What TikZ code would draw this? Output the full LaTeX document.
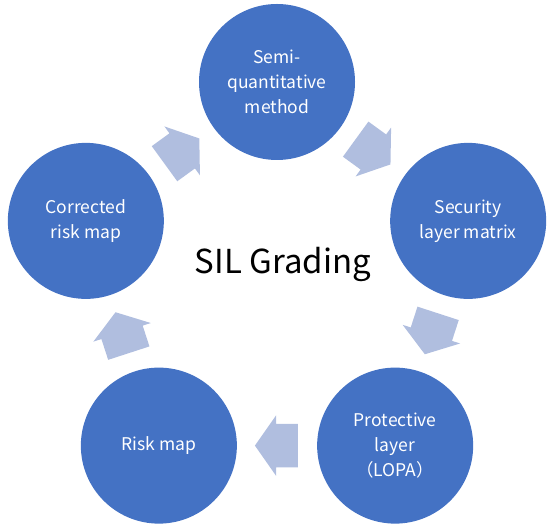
\documentclass[tikz,border=0pt]{standalone}
\usepackage{fontspec}
\setmainfont{Noto Sans CJK SC}
\usepackage{tikz}
\usetikzlibrary{shapes.arrows, calc, positioning}
\definecolor{stepblue}{RGB}{68, 114, 196}
\definecolor{flowblue}{RGB}{176, 190, 223}

\begin{document}
\begin{tikzpicture}[
    x=1pt, y=1pt,
    phase/.style={circle, fill=stepblue, minimum size=156pt, inner sep=0pt, align=center, text=white, font=\fontsize{17.5}{25}\selectfont},
    flow/.style={single arrow, fill=flowblue, minimum height=43pt, inner xsep=0pt, inner ysep=21.5pt, single arrow head extend=8.5pt, single arrow tip angle=110, xshift=-7pt},
    hub/.style={font=\fontsize{33}{36}\selectfont}
]
    \useasboundingbox (0,0) rectangle (548,527);
    \coordinate (mid) at (277,244);

    \node[phase] (semi) at ($(mid)+(90:201)$) {Semi-\\quantitative\\method};
    \node[phase] (layer) at ($(mid)+(18:201)$) {Security\\layer matrix};
    \node[phase] (lopa) at ($(mid)+(-54:201)$) {Protective\\layer\\（LOPA）};
    \node[phase] (risk) at ($(mid)+(-126:201)$) {Risk map};
    \node[phase] (corr) at ($(mid)+(162:201)$) {Corrected\\risk map};

    \node[hub] (sil) at (283,263) {SIL Grading};

    % cycle arrows, clockwise
    \node[rotate=-36, flow] at ($(semi)!0.5!(layer)$) {};
    \node[rotate=-108, flow] at ($(layer)!0.5!(lopa)$) {};
    \node[rotate=180, flow] at ($(lopa)!0.5!(risk)$) {};
    \node[rotate=108, flow] at ($(risk)!0.5!(corr)$) {};
    \node[rotate=36, flow] at ($(corr)!0.5!(semi)$) {};

\end{tikzpicture}
\end{document}
